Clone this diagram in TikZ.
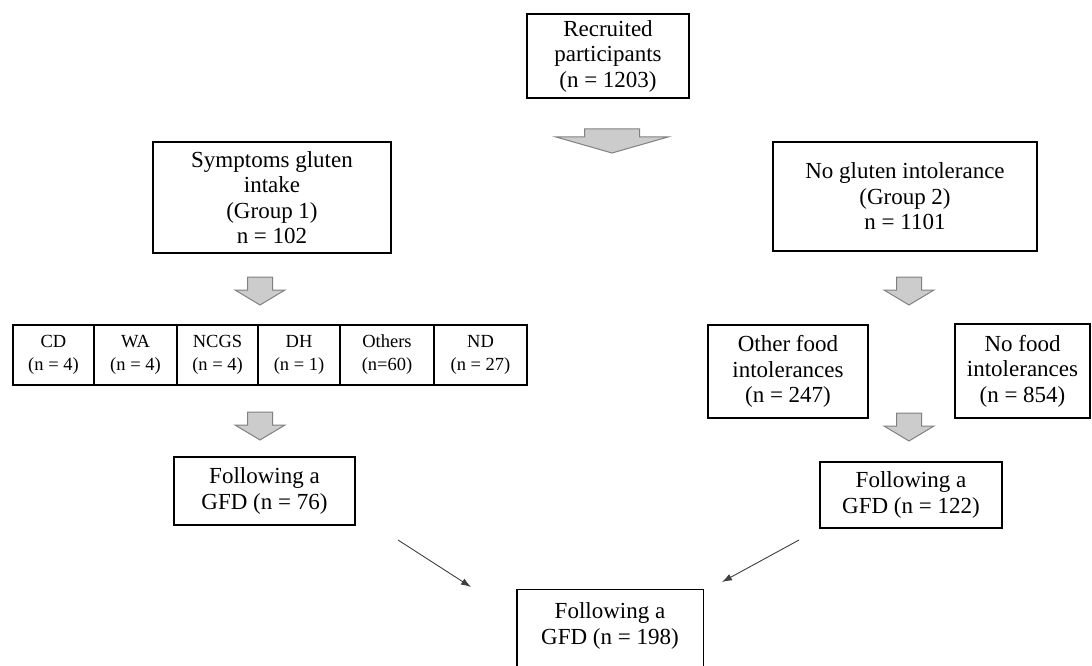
\documentclass[tikz,border=0pt]{standalone}
\usepackage{fontspec}
\setmainfont{Liberation Serif}
\newfontfamily\timesfont{Liberation Serif}
\usetikzlibrary{arrows.meta}
\begin{document}
\begin{tikzpicture}[x=1pt,y=-1pt,
  box/.style={draw=black, line width=1.4pt, inner sep=0pt, align=center,
    font=\fontsize{23}{25.5}\selectfont},
  cell/.style={draw=black, line width=1.4pt, inner sep=0pt, align=center,
    minimum height=60pt, font=\timesfont\fontsize{18.5}{23}\selectfont},
  thinarrow/.style={draw=black!75, line width=0.9pt, -{Latex[length=10pt,width=7pt]}},
  garrowstyle/.style={fill=black!20, draw=black!50, line width=1pt, line join=miter},
  pics/bigarrow/.style={code={
    \draw[garrowstyle] (-27.5,0) -- (27.5,0) -- (27.5,8) -- (56,8) -- (0,24) -- (-56,8) -- (-27.5,8) -- cycle;}},
  pics/smallarrow/.style={code={
    \draw[garrowstyle] (-12.5,0) -- (12.5,0) -- (12.5,13) -- (25,13) -- (0,28) -- (-25,13) -- (-12.5,13) -- cycle;}}
]
\useasboundingbox (0,0) rectangle (1092,666);
\clip (0,0) rectangle (1092,666);

% top
\node[box, minimum width=162pt, minimum height=84pt] (rec) at (608,56) {Recruited\\participants\\(n = 1203)};
\pic at (612,129) {bigarrow};

% group boxes
\node[box, minimum width=238pt, minimum height=111pt] (g1) at (272,197.5) {Symptoms gluten\\intake\\(Group 1)\\n = 102};
\node[box, minimum width=264pt, minimum height=109pt] (g2) at (905,196.5) {No gluten intolerance\\(Group 2)\\n = 1101};

\pic at (260,277) {smallarrow};
\pic at (909,277) {smallarrow};

% table
\node[cell, minimum width=81pt] (cd) at (53.5,355) {CD\\(n = 4)};
\node[cell, minimum width=83pt] (wa) at (135.5,355) {WA\\(n = 4)};
\node[cell, minimum width=81pt] (ncgs) at (217.5,355) {NCGS\\(n = 4)};
\node[cell, minimum width=82pt] (dh) at (299,355) {DH\\(n = 1)};
\node[cell, minimum width=94pt] (oth) at (387,355) {Others\\(n=60)};
\node[cell, minimum width=93pt] (nd) at (480.5,355) {ND\\(n = 27)};

% right middle
\node[box, minimum width=160pt, minimum height=93pt] (ofi) at (788,371.5) {Other food\\intolerances\\(n = 247)};
\node[box, minimum width=135pt, minimum height=94pt] (nfi) at (1022.5,371) {No food\\intolerances\\(n = 854)};

\pic at (260,412) {smallarrow};
\pic at (909,413) {smallarrow};

% GFD boxes
\node[box, minimum width=181pt, minimum height=68pt] (f1) at (264.5,491) {Following a\\GFD (n = 76)};
\node[box, minimum width=182pt, minimum height=66pt] (f2) at (911,495) {Following a\\GFD (n = 122)};

\node[box, draw=none, minimum width=185pt, minimum height=72pt] (f3) at (610,626) {Following a\\GFD (n = 198)};
\draw[line width=1.4pt] ([yshift=-40pt]f3.south west) -- (f3.north west) -- (f3.north east) -- ([yshift=-40pt]f3.south east);

% thin arrows
\coordinate (l1) at (398,540);
\coordinate (l2) at (471,587);
\coordinate (r1) at (799,540);
\coordinate (r2) at (722,582);
\draw[thinarrow] (l1) -- (l2);
\draw[thinarrow] (r1) -- (r2);
\end{tikzpicture}
\end{document}
